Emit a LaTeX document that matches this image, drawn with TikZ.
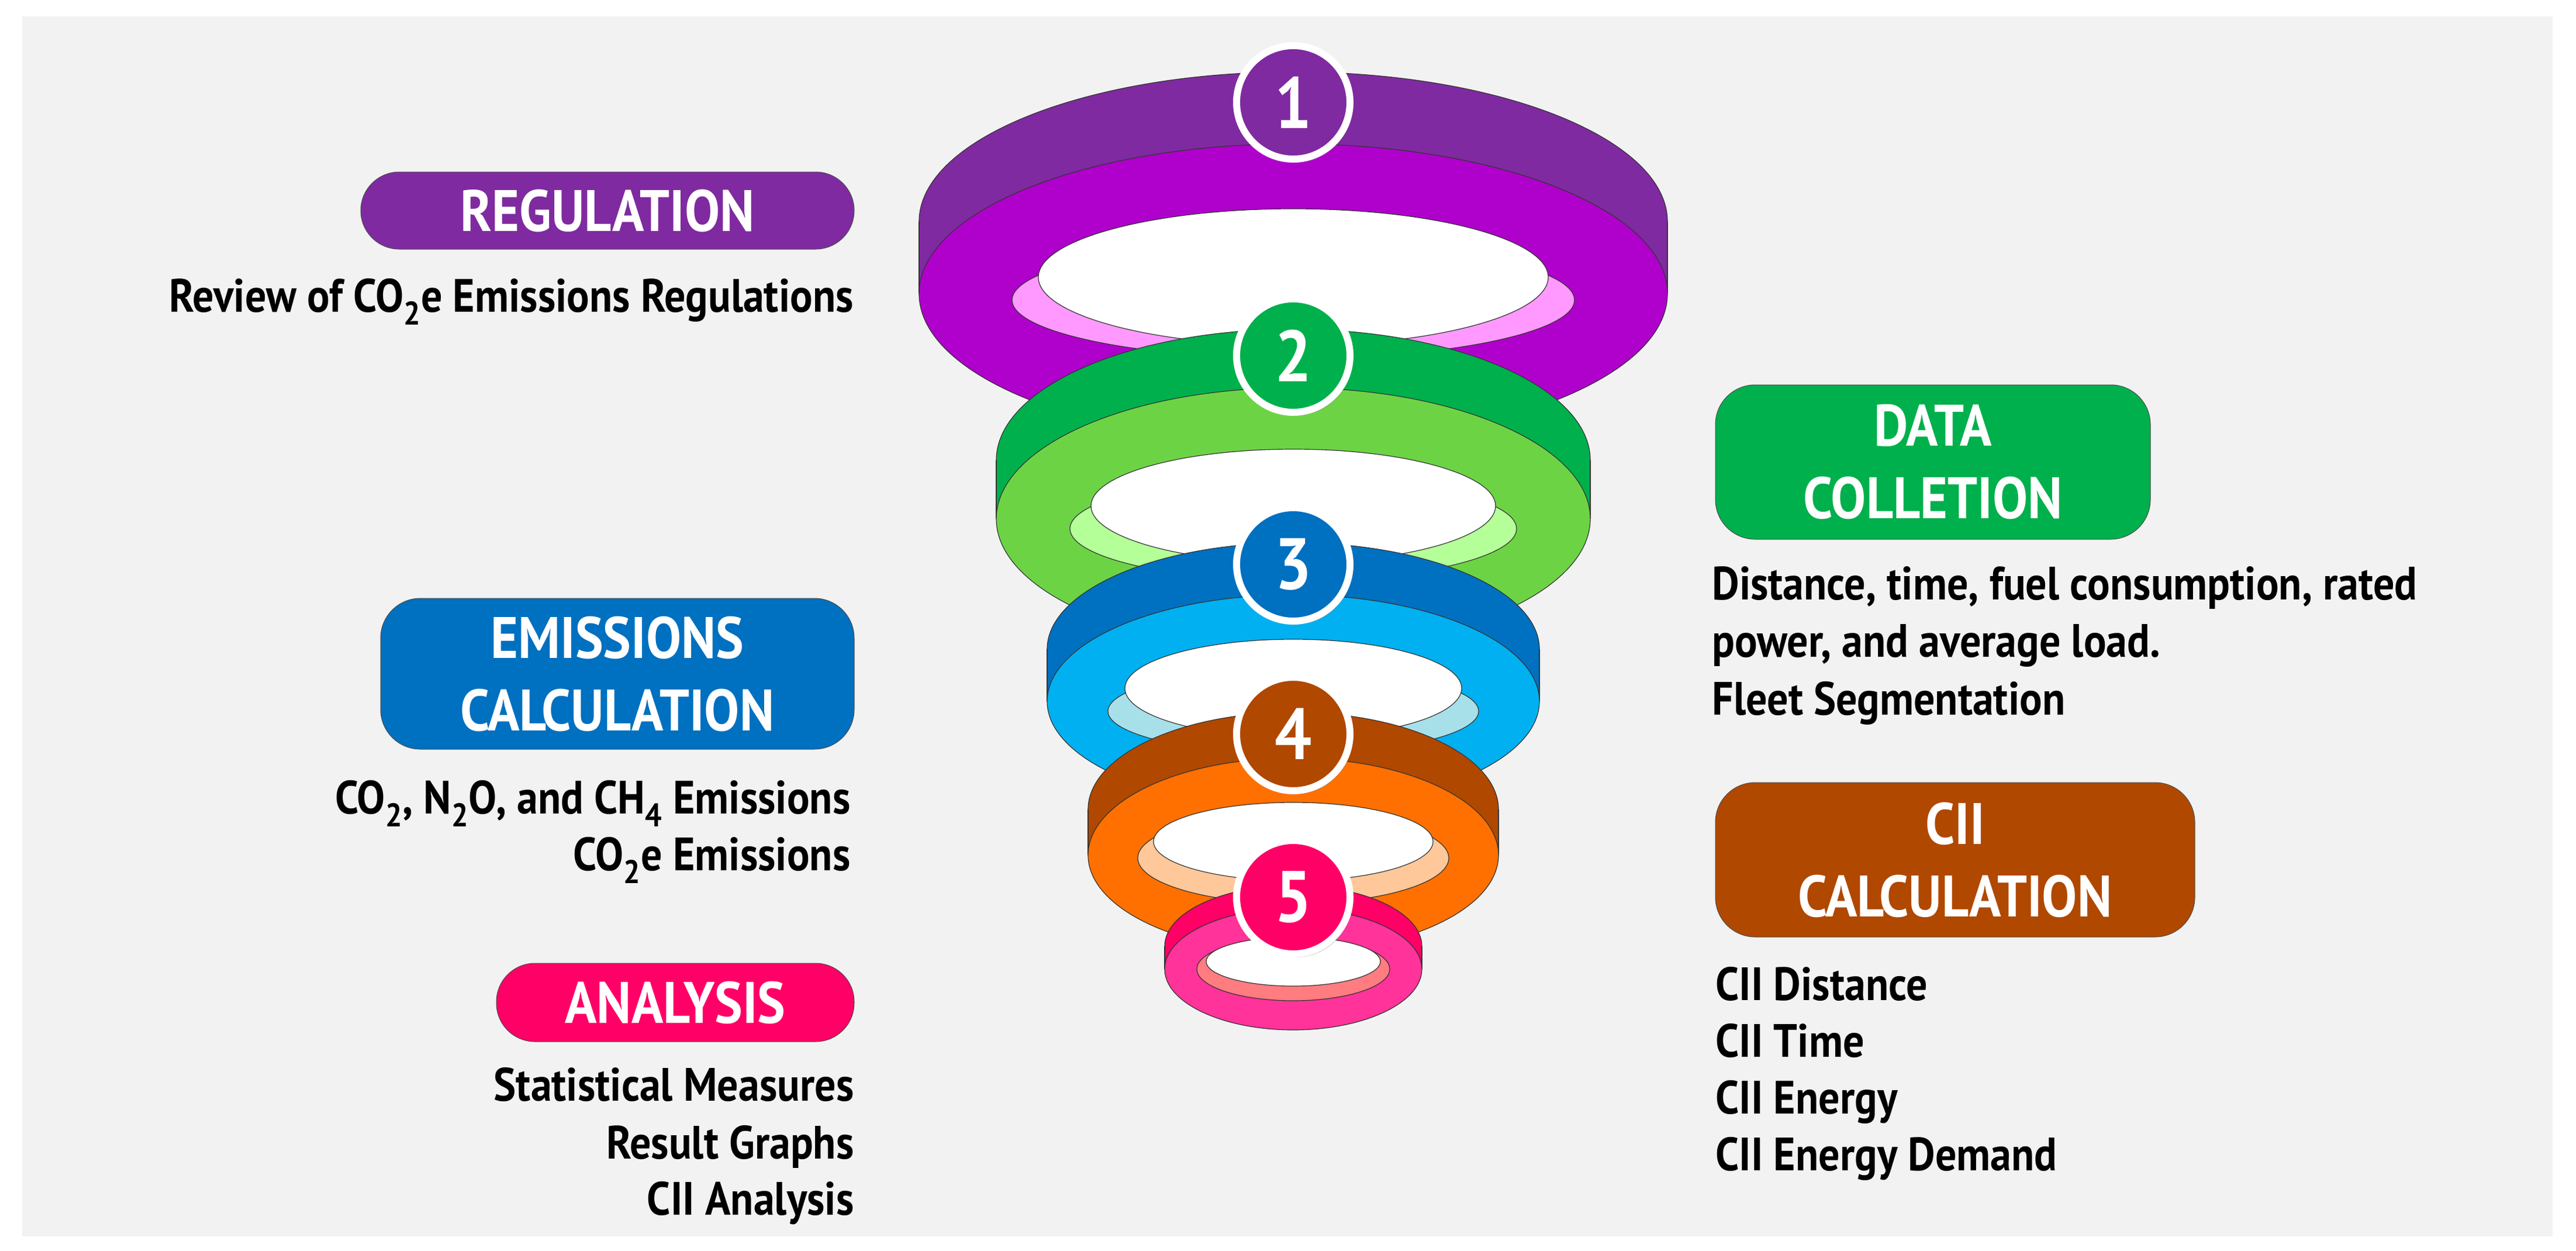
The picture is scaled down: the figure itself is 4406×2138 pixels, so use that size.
\documentclass[tikz,border=0pt]{standalone}
\usepackage{fontspec}
\setmainfont{PT Sans}[FakeStretch=0.9]
\usetikzlibrary{shadows}
\definecolor{bg}{HTML}{F2F2F2}
\definecolor{dA}{HTML}{7F2AA0}\definecolor{lA}{HTML}{B000CC}\definecolor{pA}{HTML}{FF99FF}
\definecolor{dB}{HTML}{00B04C}\definecolor{lB}{HTML}{6CD444}\definecolor{pB}{HTML}{B5FF99}
\definecolor{dC}{HTML}{0070C0}\definecolor{lC}{HTML}{00B0F0}\definecolor{pC}{HTML}{A8E0EA}
\definecolor{dD}{HTML}{B04800}\definecolor{lD}{HTML}{FF7000}\definecolor{pD}{HTML}{FFC89A}
\definecolor{dE}{HTML}{FF0066}\definecolor{lE}{HTML}{FF3399}\definecolor{pE}{HTML}{FF7C80}
\tikzset{
  edge/.style={draw=black!80, line width=0.6pt},
  badge/.style={circle, draw=white, line width=6pt, minimum size=97pt, inner sep=0pt,
    text=white, font=\bfseries\fontsize{62}{62}\selectfont,
    drop shadow={shadow xshift=2pt, shadow yshift=-3pt, opacity=0.35}},
  headbox/.style={draw=black!70, line width=0.5pt, text=white, align=center, inner sep=0pt,
    font=\bfseries\fontsize{50}{62}\selectfont},
  body/.style={inner sep=0pt, font=\bfseries\fontsize{40}{48}\selectfont, text=black}
}
% ring: cx, dark cy, light cy, rx, ry, pale cy, pale rx, pale ry, white cy, white rx, white ry, colors
\newcommand{\myring}[9]{%
  \fill[#9] (2212-#3,#1) rectangle (2212+#3,#2);
  \draw[edge,fill=#9] (2212,#1) ellipse [x radius=#3, y radius=#4];
  \fill[#9] (2212-#3,#1) rectangle (2212+#3,#2);
  \draw[edge] (2212-#3,#1) -- (2212-#3,#2) (2212+#3,#1) -- (2212+#3,#2);
}
\begin{document}
\begin{tikzpicture}[x=0.5pt,y=-0.5pt]
\useasboundingbox (0,0) rectangle (4406,2138);
\fill[white] (0,0) rectangle (4406,2138);
\fill[bg] (38,28) rectangle (4366,2114);
% ---- rings: args dark cy, light cy, rx, ry, then inner
\def\drawring#1#2#3#4#5#6#7#8#9{%
  \myring{#1}{#2}{#3}{#4}{}{}{}{}{#5}%
  \draw[edge,fill=#6] (2212,#2) ellipse [x radius=#3, y radius=#4];%
}
% Ring 1
\drawring{379}{502}{640}{256}{dA}{lA}{}{}{}
\draw[edge,fill=pA] (2212,513) ellipse [x radius=481, y radius=100];
\draw[edge,fill=white] (2212,474) ellipse [x radius=436, y radius=117];
% Ring 2
\drawring{787}{887}{508}{224}{dB}{lB}{}{}{}
\draw[edge,fill=pB] (2212,904) ellipse [x radius=382, y radius=89];
\draw[edge,fill=white] (2212,865) ellipse [x radius=346, y radius=97];
% Ring 3
\drawring{1110}{1199}{421}{182}{dC}{lC}{}{}{}
\draw[edge,fill=pC] (2212,1216) ellipse [x radius=317, y radius=73];
\draw[edge,fill=white] (2212,1177) ellipse [x radius=288, y radius=84];
% Ring 4
\drawring{1384}{1462}{351}{166}{dD}{lD}{}{}{}
\draw[edge,fill=pD] (2212,1467) ellipse [x radius=266, y radius=78];
\draw[edge,fill=white] (2212,1439) ellipse [x radius=239, y radius=67];
% Ring 5
\drawring{1618}{1657}{220}{104}{dE}{lE}{}{}{}
\draw[edge,fill=pE] (2212,1657) ellipse [x radius=165, y radius=54];
\draw[edge,fill=white] (2212,1644) ellipse [x radius=149, y radius=42];
% badges
\node[badge,fill=dA] (b1) at (2212,175) {1};
\node[badge,fill=dB] (b2) at (2212,608) {2};
\node[badge,fill=dC] (b3) at (2212,965) {3};
\node[badge,fill=dD] (b4) at (2212,1255) {4};
\node[badge,fill=dE] (b5) at (2212,1534) {5};
% heading boxes
\node[headbox,fill=dA,minimum width=422pt,minimum height=66pt,rounded corners=33pt] (reg) at (1039,360) {REGULATION};
\node[headbox,fill=dC,minimum width=405pt,minimum height=129pt,rounded corners=34pt] (emi) at (1056,1152) {EMISSIONS\\CALCULATION};
\node[headbox,fill=dE,minimum width=306pt,minimum height=67pt,rounded corners=33pt] (ana) at (1155,1714) {ANALYSIS};
\node[headbox,fill=dB,minimum width=372pt,minimum height=132pt,rounded corners=34pt] (dat) at (3306,790) {DATA\\COLLETION};
\node[headbox,fill=dD,minimum width=410pt,minimum height=132pt,rounded corners=34pt] (cii) at (3344,1470) {CII\\CALCULATION};
% body texts left
\node[body,anchor=base east] (t1) at (1460,533) {Review of CO\textsubscript{2}e Emissions Regulations};
\node[body,anchor=base east] (t2) at (1455,1391) {CO\textsubscript{2}, N\textsubscript{2}O, and CH\textsubscript{4} Emissions};
\node[body,anchor=base east] (t3) at (1455,1488) {CO\textsubscript{2}e Emissions};
\node[body,anchor=base east] (t4) at (1461,1882) {Statistical Measures};
\node[body,anchor=base east] (t5) at (1461,1981) {Result Graphs};
\node[body,anchor=base east] (t6) at (1461,2077) {CII Analysis};
% body texts right
\node[body,anchor=base west] (r1) at (2928,1025) {Distance, time, fuel consumption, rated};
\node[body,anchor=base west] (r2) at (2928,1123) {power, and average load.};
\node[body,anchor=base west] (r3) at (2928,1222) {Fleet Segmentation};
\node[body,anchor=base west] (c1) at (2934,1710) {CII Distance};
\node[body,anchor=base west] (c2) at (2934,1807) {CII Time};
\node[body,anchor=base west] (c3) at (2934,1904) {CII Energy};
\node[body,anchor=base west] (c4) at (2934,2001) {CII Energy Demand};
\end{tikzpicture}
\end{document}
